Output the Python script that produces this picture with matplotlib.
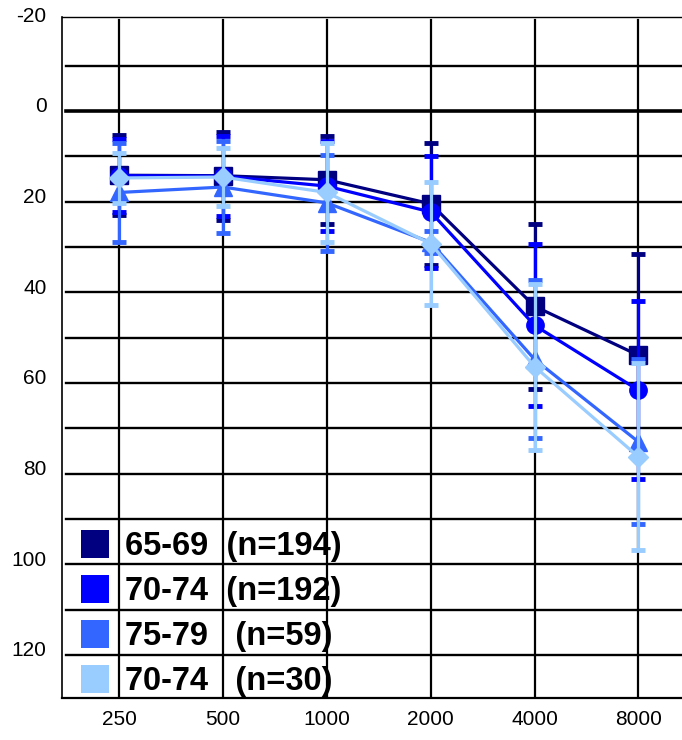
import matplotlib
matplotlib.use("Agg")
import matplotlib.pyplot as plt
from matplotlib.lines import Line2D
import matplotlib.transforms as mtransforms

plt.rcParams['font.family'] = ['Liberation Sans', 'DejaVu Sans']

freqs = ["250", "500", "1000", "2000", "4000", "8000"]

labels = ["65-69  (n=194)", "70-74  (n=192)", "75-79   (n=59)", "70-74   (n=30)"]
colors = ["#000080", "#0000FF", "#3366FF", "#99CCFF"]
markers = ["s", "o", "^", "D"]

mean_6569 = [14.2, 14.3, 15.2, 20.5, 43.1, 53.9]
sd_6569 = [8.8, 9.7, 9.7, 13.4, 18.2, 22.3]
mean_7074 = [14.3, 14.4, 16.6, 22.3, 47.3, 61.6]
sd_7074 = [8.1, 8.8, 9.9, 12.4, 17.9, 19.6]
mean_7579 = [18.0, 16.8, 20.3, 29.0, 54.8, 73.0]
sd_7579 = [10.9, 10.2, 10.6, 2.4, 17.4, 18.2]
mean_7074b = [14.8, 14.6, 18.0, 29.3, 56.4, 76.3]
sd_7074b = [5.6, 6.3, 10.9, 13.5, 18.3, 20.6]

means = [mean_6569, mean_7074, mean_7579, mean_7074b]
sds = [sd_6569, sd_7074, sd_7579, sd_7074b]
zorders = [3, 4, 5, 6]

yticks = [-20, 0, 20, 40, 60, 80, 100, 120]

fig = plt.figure(figsize=(6.82, 7.40), dpi=100)
ax = fig.add_axes([0.0909, 0.0568, 0.9091, 0.9202])

x = list(range(len(freqs)))
ax.set_xlim(-0.55, 5.42)
ax.set_ylim(129.5, -20.7)

# grid
for v in range(-10, 130, 10):
    ax.axhline(v, xmin=0.006, xmax=1.0, color="black", lw=2.6 if v == 0 else 1.7, zorder=1)
for xi in x:
    ax.axvline(xi, ymin=0.0, ymax=0.995, color="black", lw=1.6, zorder=1)

for m, s, c, mk, z in zip(means, sds, colors, markers, zorders):
    ax.errorbar(x, m, yerr=s, color=c, marker=mk, markersize=12.5 if mk != "D" else 10.5,
                lw=2.3, elinewidth=2.3, capsize=5, capthick=3.5, zorder=z,
                markeredgecolor=c, markerfacecolor=c)

ax.set_xticks(x)
ax.set_xticklabels(freqs, fontsize=15)
ax.set_yticks(yticks)
ax.set_yticklabels([str(v) for v in yticks], fontsize=15)
ax.tick_params(axis="both", length=0)
ax.tick_params(axis="y", pad=11)
ax.tick_params(axis="x", pad=9)
offset = mtransforms.ScaledTranslation(0, 6 / 100, fig.dpi_scale_trans)
for lab in ax.get_yticklabels():
    lab.set_transform(lab.get_transform() + offset)

ax.spines["right"].set_visible(False)
ax.spines["top"].set_linewidth(1.0)
ax.spines["left"].set_linewidth(1.2)
ax.spines["bottom"].set_linewidth(1.6)

handles = [Line2D([], [], ls="none", marker="s", markersize=19.5, color=c, markeredgewidth=0)
           for c in colors]
leg = ax.legend(handles, labels, loc="lower left", bbox_to_anchor=(0.0, -0.018),
                frameon=False, handlelength=1.2, handletextpad=0.34, labelspacing=0.43,
                borderaxespad=0.0, prop={"size": 23.5, "weight": "bold"})
leg.set_zorder(10)

fig.savefig("out.png", dpi=100)
